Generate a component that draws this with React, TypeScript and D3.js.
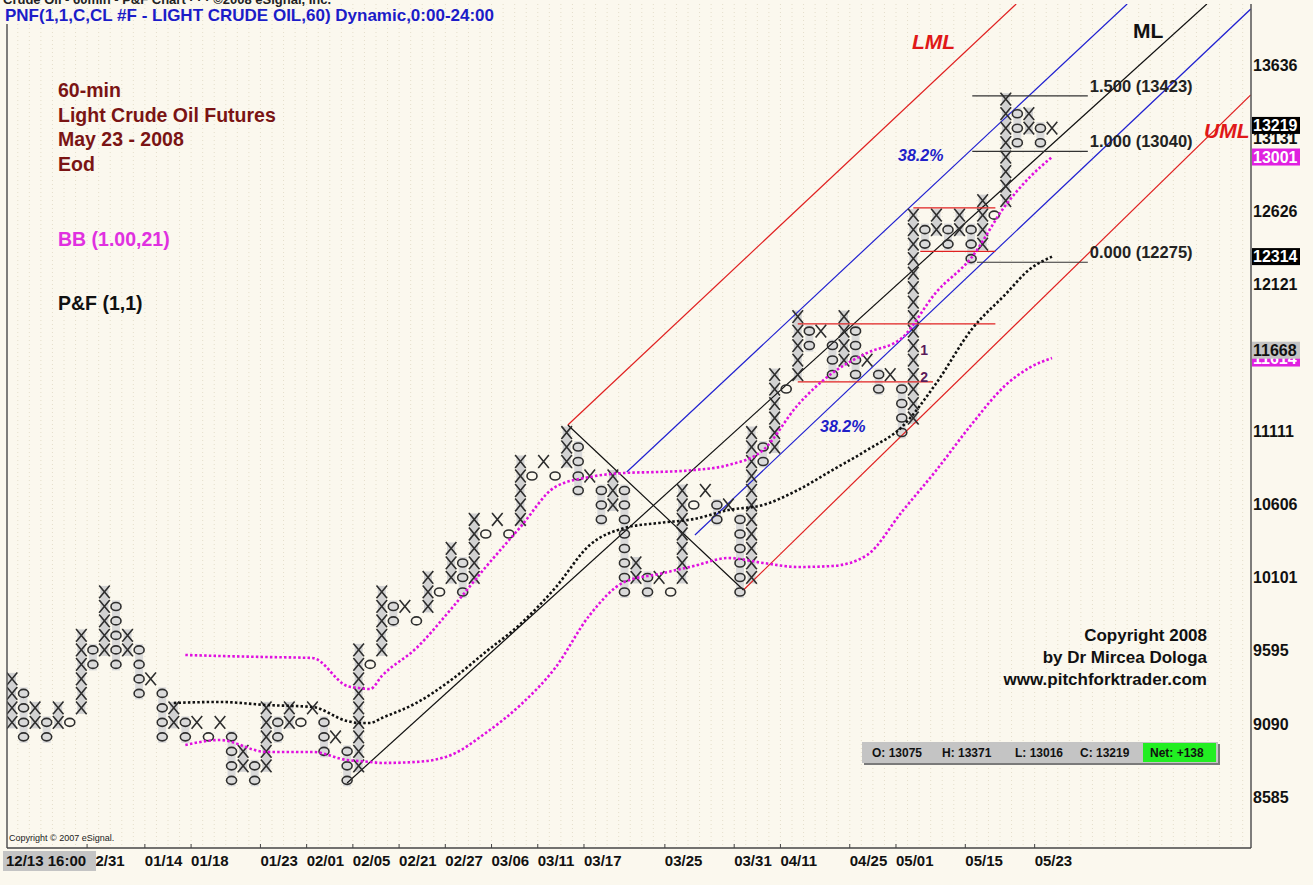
import React, { useEffect } from 'react';
import * as d3 from 'd3';

const W = 1313;
const H = 885;
const BG = '#fbf8ee';
const FONT = 'Liberation Sans, Arial, Helvetica, sans-serif';

// point & figure columns (box = 1.00), even index = X column, odd = O column
const boxLow = [91, 90, 91, 90, 91, 91, 92, 95, 96, 95, 96, 93, 94, 90, 91, 90, 91, 90, 91, 87, 88, 87, 88, 90, 91, 91, 92, 89, 90, 87,
  88, 95, 96, 98, 99, 98, 99, 100, 101, 100, 101, 104, 105, 104, 105, 108, 109, 108, 109, 107, 108, 105, 106, 100, 101, 100, 101, 100, 101, 106,
  107, 105, 106, 100, 101, 109, 110, 114, 115, 117, 118, 115, 116, 115, 116, 114, 115, 111, 112, 124, 125, 124, 125, 123, 124, 126, 127, 131, 132, 131, 132];
const boxHigh = [94, 93, 92, 91, 92, 91, 97, 96, 100, 99, 97, 96, 94, 93, 92, 91, 91, 90, 91, 90, 89, 88, 92, 91, 92, 91, 92, 91, 90, 89,
  96, 95, 100, 99, 99, 98, 101, 100, 103, 102, 105, 104, 105, 104, 109, 108, 109, 108, 111, 110, 108, 107, 108, 107, 102, 101, 101, 100, 107, 106,
  107, 106, 106, 105, 111, 110, 115, 114, 119, 118, 118, 117, 119, 118, 116, 115, 115, 114, 126, 125, 126, 125, 126, 125, 127, 126, 134, 133, 133, 132, 132];

// Bollinger bands (1.00,21)
const bbCols = [15, 18, 22, 26, 29, 30, 31, 32, 35, 38, 41, 44, 47, 50, 53, 56, 59, 62, 65, 68, 71, 74, 77, 80, 83, 86, 88, 90];
const bbUpper = [9565, 9558, 9551, 9544, 9351, 9337, 9330, 9420, 9613, 9882, 10172, 10448, 10724, 10793, 10821, 10828, 10841, 10876,
  10979, 11290, 11511, 11649, 11752, 12070, 12304, 12670, 12856, 13001];
const bbLower = [8944, 8978, 8896, 8896, 8840, 8833, 8827, 8820, 8827, 8875, 9027, 9220, 9475, 9841, 10069, 10124, 10179, 10234,
  10200, 10172, 10179, 10255, 10552, 10841, 11152, 11428, 11545, 11614];
const midCols = [14, 18, 22, 26, 29, 30, 31, 32, 35, 38, 41, 44, 47, 50, 53, 56, 59, 62, 65, 68, 71, 74, 77, 80, 83, 86, 88, 90];
const bbMiddle = [9234, 9241, 9220, 9206, 9109, 9096, 9096, 9130, 9234, 9392, 9586, 9779, 10027, 10324, 10441, 10476, 10503, 10565,
  10600, 10703, 10841, 10979, 11138, 11442, 11807, 12056, 12222, 12314];

// pitchfork, [column, price] anchors
const forkLines = [
  { from: [29, 8682], to: [103.4, 14057], color: '#111' },      // ML
  { from: [48.1, 11152], to: [86.9, 14057], color: '#e02020' }, // LML
  { from: [63.3, 10013], to: [107.2, 13429], color: '#e02020' }, // UML
  { from: [53.2, 10828], to: [96.5, 14057], color: '#2020d0' }, // 38.2% upper
  { from: [59.1, 10393], to: [107.2, 14022], color: '#2020d0' }, // 38.2% lower
  { from: [48.1, 11152], to: [63.3, 10013], color: '#111' },    // P1-P2
];

// red range lines
const rangeVals = [11850, 11450, 12650, 12350];
const rangeFrom = [68, 68, 78, 78.6];
const rangeTo = [85.1, 79.7, 85.1, 85.1];

// fib projections
const fibVals = [13423, 13040, 12275];
const fibLabels = ['1.500 (13423)', '1.000 (13040)', '0.000 (12275)'];
const fibFrom = [83.1, 83.1, 83.5];
const fibTo = 93.1;

// price axis
const yTicks = [8585, 9090, 9595, 10101, 10606, 11111, 11616, 12121, 12626, 13131, 13636];
const lastVals = [13219, 13001, 12314, 11614, 11668];
const lastBg = ['#000', '#e020e0', '#000', '#e020e0', '#c4c4c4'];
const lastFg = ['#fff', '#fff', '#fff', '#fff', '#111'];

// time axis
const tickCols = [7, 12, 16, 22, 26, 30, 34, 38, 42, 46, 50, 57, 63, 67, 73, 77, 83, 89];
const tickLabels = ['12/31', '01/14', '01/18', '01/23', '02/01', '02/05', '02/21', '02/27', '03/06', '03/11', '03/17',
  '03/25', '03/31', '04/11', '04/25', '05/01', '05/15', '05/23'];

const ohlcLabels = ['O: 13075', 'H: 13371', 'L: 13016', 'C: 13219'];

export default function App() {
  useEffect(() => {
    document.body.style.margin = '0';
    document.body.style.background = BG;
  }, []);

  const x = d3.scaleLinear().domain([0, 90]).range([12, 1052]);
  const y = d3.scaleLinear().domain([8585, 13636]).range([797, 65]);
  const L = 7, R = 1251, T = 4, B = 848;

  const band = d3.line<number>().curve(d3.curveMonotoneX);
  const upper = band(bbCols.map((c, i) => [x(c), y(bbUpper[i])] as any) as any);
  const lower = band(bbCols.map((c, i) => [x(c), y(bbLower[i])] as any) as any);
  const middle = band(midCols.map((c, i) => [x(c), y(bbMiddle[i])] as any) as any);

  const glyphs: JSX.Element[] = [];
  const strips: JSX.Element[] = [];
  boxLow.forEach((lo, i) => {
    const hi = boxHigh[i];
    const cx = x(i);
    if (hi > lo) {
      strips.push(<rect key={'s' + i} x={cx - 4} y={y(hi * 100) - 6} width={8} height={y(lo * 100) - y(hi * 100) + 12}
        fill={i % 2 === 0 ? '#d2d2d2' : '#dadada'} />);
    }
    for (let b = lo; b <= hi; b++) {
      const cy = y(b * 100);
      if (i % 2 === 0) {
        glyphs.push(<path key={`g${i}-${b}`} d={`M${cx - 5.3},${cy - 6.4}L${cx + 5.3},${cy + 6.4}M${cx + 5.3},${cy - 6.4}L${cx - 5.3},${cy + 6.4}`}
          stroke="#2e2e2e" strokeWidth={1.6} fill="none" />);
      } else {
        glyphs.push(<ellipse key={`g${i}-${b}`} cx={cx} cy={cy} rx={5} ry={4} stroke="#2e2e2e" strokeWidth={1.6} fill="none" />);
      }
    }
  });

  const grid = d3.range(-0.5, 108, 1).map(c => x(c)).filter(v => v > L && v < R);

  return (
    <svg width={W} height={H} style={{ position: 'absolute', left: 0, top: 0, background: BG }} fontFamily={FONT}>
      <defs>
        <clipPath id="plot"><rect x={L} y={T} width={R - L} height={B - T} /></clipPath>
      </defs>
      <rect width={W} height={H} fill={BG} />
      {grid.map((gx, i) => (
        <line key={'vg' + i} x1={gx} x2={gx} y1={T} y2={B} stroke="#e4decb" strokeWidth={1} strokeDasharray="1 3" />
      ))}
      <text x={3} y={4} fontSize={13} fontWeight="bold" fill="#222">Crude Oil - 60min - P&amp;F Chart  · · ·  ©2008 eSignal, Inc.</text>

      <g clipPath="url(#plot)">
        {strips}
        {forkLines.map((l, i) => (
          <line key={'f' + i} x1={x(l.from[0])} y1={y(l.from[1])} x2={x(l.to[0])} y2={y(l.to[1])} stroke={l.color} strokeWidth={1.2} />
        ))}
        {rangeVals.map((v, i) => (
          <line key={'r' + i} x1={x(rangeFrom[i])} x2={x(rangeTo[i])} y1={y(v)} y2={y(v)} stroke="#e02020" strokeWidth={1.3} />
        ))}
        {fibVals.map((v, i) => (
          <line key={'fb' + i} x1={x(fibFrom[i])} x2={x(fibTo)} y1={y(v)} y2={y(v)} stroke="#333" strokeWidth={1.2} />
        ))}
        {glyphs}
        <path d={upper || ''} fill="none" stroke="#e010e0" strokeWidth={2.6} strokeDasharray="2.5 2.2" />
        <path d={lower || ''} fill="none" stroke="#e010e0" strokeWidth={2.6} strokeDasharray="2.5 2.2" />
        <path d={middle || ''} fill="none" stroke="#111" strokeWidth={2.6} strokeDasharray="2.5 2.2" />
        <text x={x(78.6)} y={y(11670)} dy="0.35em" fontSize={14} fontWeight="bold" fill="#5a1a5a">1</text>
        <text x={x(78.6)} y={y(11480)} dy="0.35em" fontSize={14} fontWeight="bold" fill="#5a1a5a">2</text>
      </g>

      {fibLabels.map((t, i) => (
        <text key={'fl' + i} x={x(fibTo) + 2} y={y(fibVals[i]) - 4} fontSize={16.5} fontWeight="bold" fill="#222">{t}</text>
      ))}

      <text x={58} y={97} fontSize={19.5} fontWeight="bold" fill="#7a1414">60-min</text>
      <text x={58} y={122} fontSize={19.5} fontWeight="bold" fill="#7a1414">Light Crude Oil Futures</text>
      <text x={58} y={146} fontSize={19.5} fontWeight="bold" fill="#7a1414">May 23 - 2008</text>
      <text x={58} y={171} fontSize={19.5} fontWeight="bold" fill="#7a1414">Eod</text>
      <text x={58} y={246} fontSize={19.5} fontWeight="bold" fill="#e030e0">BB (1.00,21)</text>
      <text x={58} y={310} fontSize={19.5} fontWeight="bold" fill="#111">P&amp;F (1,1)</text>

      <text x={912} y={49} fontSize={21} fontWeight="bold" fontStyle="italic" fill="#e01818">LML</text>
      <text x={1133} y={38} fontSize={21} fontWeight="bold" fill="#111">ML</text>
      <text x={1204} y={138} fontSize={21} fontWeight="bold" fontStyle="italic" fill="#e01818">UML</text>
      <text x={898} y={161} fontSize={16} fontWeight="bold" fontStyle="italic" fill="#2020c8">38.2%</text>
      <text x={820} y={432} fontSize={16} fontWeight="bold" fontStyle="italic" fill="#2020c8">38.2%</text>

      <text x={1207} y={641} fontSize={17} fontWeight="bold" fill="#111" textAnchor="end">Copyright 2008</text>
      <text x={1207} y={663} fontSize={17} fontWeight="bold" fill="#111" textAnchor="end">by Dr Mircea Dologa</text>
      <text x={1207} y={685} fontSize={17} fontWeight="bold" fill="#111" textAnchor="end">www.pitchforktrader.com</text>

      <rect x={864} y={744} width={356} height={21} fill="#7a7a7a" />
      <rect x={862} y={742} width={356} height={21} fill="#c4c4c4" />
      <rect x={1143} y={743} width={73} height={19} fill="#22ee22" />
      {ohlcLabels.map((t, i) => (
        <text key={'o' + i} x={[872, 942, 1015, 1080][i]} y={757} fontSize={12} fontWeight="bold" fill="#111">{t}</text>
      ))}
      <text x={1150} y={757} fontSize={12} fontWeight="bold" fill="#111">Net: +138</text>

      <text x={9} y={841} fontSize={9} fill="#222">Copyright © 2007 eSignal.</text>

      <line x1={L} x2={L} y1={24} y2={B} stroke="#555" strokeWidth={1.5} />
      <line x1={R} x2={R} y1={T} y2={B} stroke="#555" strokeWidth={1.5} />
      <line x1={L} x2={R} y1={B} y2={B} stroke="#444" strokeWidth={1.5} />
      <text x={5} y={21} fontSize={17} fontWeight="bold" fill="#1c1cc8">PNF(1,1,C,CL #F - LIGHT CRUDE OIL,60) Dynamic,0:00-24:00</text>

      {yTicks.map(v => (
        <text key={'yt' + v} x={1253} y={y(v)} dy="0.36em" fontSize={16} fontWeight="bold" fill="#111">{v}</text>
      ))}
      {lastVals.map((v, i) => (
        <g key={'lv' + i}>
          <rect x={1252} y={y(v) - 8.5} width={48} height={17} fill={lastBg[i]} />
          <text x={1253} y={y(v)} dy="0.36em" fontSize={16} fontWeight="bold" fill={lastFg[i]}>{v}</text>
        </g>
      ))}

      {tickCols.map((c, i) => (
        <g key={'xt' + i}>
          <line x1={x(c) - 5.8} x2={x(c) - 5.8} y1={B} y2={B - 4} stroke="#444" />
          <text x={x(c) - 5.8} y={866} fontSize={15} fontWeight="bold" fill="#111">{tickLabels[i]}</text>
        </g>
      ))}
      <rect x={3} y={851} width={93} height={20} fill="#c4c4c4" />
      <text x={6} y={866} fontSize={15} fontWeight="bold" fill="#111">12/13 16:00</text>
    </svg>
  );
}
